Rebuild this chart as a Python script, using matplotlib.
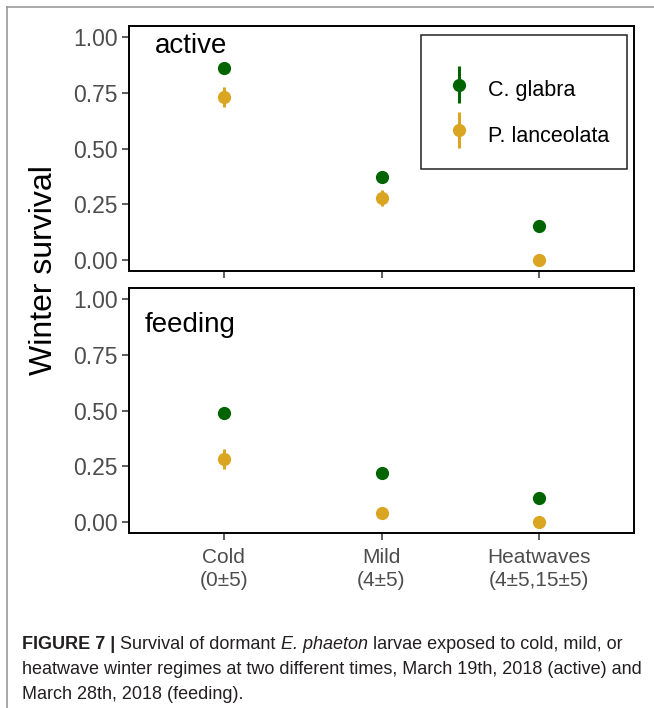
import matplotlib.pyplot as plt
from matplotlib.patches import Rectangle
from matplotlib.lines import Line2D
from matplotlib.container import ErrorbarContainer
from matplotlib.legend_handler import HandlerErrorbar

# data
regimes = ["Cold\n(0±5)", "Mild\n(4±5)", "Heatwaves\n(4±5,15±5)"]
panels = ["active", "feeding"]
species = ["C. glabra", "P. lanceolata"]
colors = ["#006400", "#DAA520"]

glabra_active = [0.86, 0.374, 0.151]
glabra_active_se = [0.012, 0.015, 0.012]
lanceolata_active = [0.731, 0.279, 0.0]
lanceolata_active_se = [0.045, 0.035, 0.0]

glabra_feeding = [0.49, 0.218, 0.105]
glabra_feeding_se = [0.015, 0.013, 0.010]
lanceolata_feeding = [0.281, 0.04, 0.0]
lanceolata_feeding_se = [0.045, 0.012, 0.0]

yticks = [0.0, 0.25, 0.5, 0.75, 1.0]
ytick_labels = ["0.00", "0.25", "0.50", "0.75", "1.00"]

W, H = 654, 708
fig = plt.figure(figsize=(W / 100, H / 100), dpi=100)
plt.rcParams["font.family"] = ["Liberation Sans", "DejaVu Sans"]


def fx(px):
    return px / W


def fy(py):
    return 1 - py / H


# panel boxes (pixels): left, right, top, bottom
ax1 = fig.add_axes([fx(129), fy(271), fx(634) - fx(129), fy(26) - fy(271)])
ax2 = fig.add_axes([fx(129), fy(533), fx(634) - fx(129), fy(288) - fy(533)])

series = [
    (ax1, [glabra_active, lanceolata_active], [glabra_active_se, lanceolata_active_se]),
    (ax2, [glabra_feeding, lanceolata_feeding], [glabra_feeding_se, lanceolata_feeding_se]),
]

x = list(range(len(regimes)))
handles = []
for ax, vals, errs in series:
    for i, (v, e) in enumerate(zip(vals, errs)):
        h = ax.errorbar(x, v, yerr=e, fmt="o", color=colors[i], ms=9.5,
                        elinewidth=2.2, capsize=0, mew=0, label=species[i])
        if ax is ax1:
            handles.append(h)
    ax.set_xlim(-0.6, 2.6)
    ax.set_ylim(-0.05, 1.05)
    ax.set_yticks(yticks)
    ax.set_yticklabels(ytick_labels)
    ax.set_xticks(x)
    for sp in ax.spines.values():
        sp.set_linewidth(1.4)
        sp.set_color("black")
    ax.tick_params(axis="y", length=5, width=1.1, color="#333333",
                   labelcolor="#4D4D4D", labelsize=16.5, pad=3)
    ax.tick_params(axis="x", length=5, width=1.1, color="#333333",
                   labelcolor="#4D4D4D", labelsize=15, pad=6)

ax1.set_xticklabels([])
ax2.set_xticklabels(regimes, linespacing=1.25)

# panel labels
ax1.text((155 - 129) / 505, (271 - 53) / 245, panels[0],
         transform=ax1.transAxes, fontsize=20, va="baseline", ha="left")
ax2.text((145 - 129) / 505, (533 - 332) / 245, panels[1],
         transform=ax2.transAxes, fontsize=20, va="baseline", ha="left")

# legend box
ax1.add_patch(Rectangle(((421 - 129) / 505, (271 - 169) / 245), 206 / 505, 134 / 245,
                        transform=ax1.transAxes, fill=False, ec="#222222", lw=1.1))
ax1.legend(handles=handles, loc="upper left",
           bbox_to_anchor=((437 - 129) / 505, (271 - 73) / 245),
           frameon=False, fontsize=15.5, borderpad=0, borderaxespad=0,
           handlelength=2, handleheight=2, labelspacing=0.55, handletextpad=0.35,
           handler_map={ErrorbarContainer: HandlerErrorbar(xerr_size=0.85)})

# y axis title
fig.text(fx(44), fy(270), "Winter survival", rotation=90, fontsize=23,
         ha="center", va="center")

# outer frame of the figure panel
fig.add_artist(Line2D([fx(7), 1], [fy(7), fy(7)], color="#999999", lw=1.2))
fig.add_artist(Line2D([fx(7), fx(7)], [0, fy(7)], color="#999999", lw=1.2))

# caption
cap_size = 13
caption = [
    [("FIGURE 7 |", "bold", "normal"), (" Survival of dormant ", "normal", "normal"),
     ("E. phaeton", "normal", "italic"), (" larvae exposed to cold, mild, or", "normal", "normal")],
    [("heatwave winter regimes at two different times, March 19th, 2018 (active) and",
      "normal", "normal")],
    [("March 28th, 2018 (feeding).", "normal", "normal")],
]
baselines = [653, 678, 703]
for line, yb in zip(caption, baselines):
    prev = None
    for txt, wt, st in line:
        if prev is None:
            prev = fig.text(fx(22), fy(yb), txt, fontsize=cap_size, fontweight=wt,
                            fontstyle=st, va="bottom", color="#231F20")
        else:
            prev = ax2.annotate(txt, xy=(1, 0), xycoords=prev, fontsize=cap_size,
                                fontweight=wt, fontstyle=st,
                                va="bottom", ha="left", color="#231F20",
                                annotation_clip=False)

fig.savefig("out.png", dpi=100)
